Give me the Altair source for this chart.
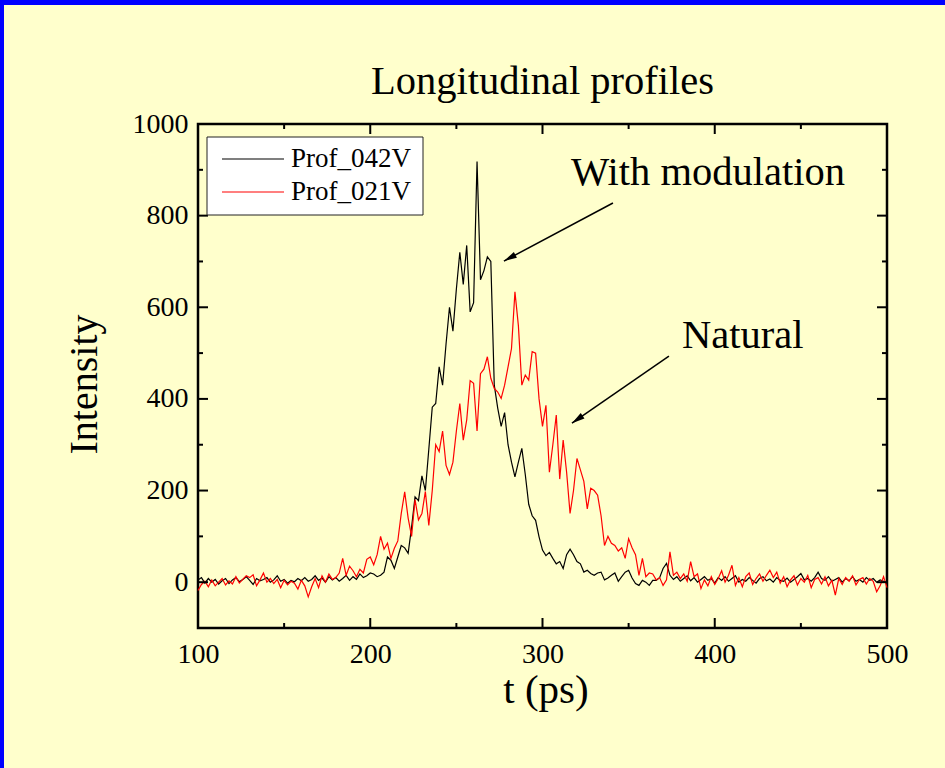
import altair as alt
import pandas as pd

# ---------------- data ----------------
t_ps = list(range(100, 501, 2))

prof_042v = [
    5, 10, -2, 8, 0, 6, -4, 3, 8, -3,
    5, 10, 1, 6, 12, 4, -5, 8, 3, 6,
    10, 0, 5, 14, 2, 6, -2, 4, 1, 8,
    3, 10, 2, 6, 14, 4, 9, 0, 12, 5,
    10, 2, 8, 15, 4, 12, 6, 18, 10, 14,
    20,
    18, 12, 15, 22, 55, 48, 30, 55, 80, 75,
    63, 120, 186, 178, 232, 200, 290, 382, 390, 470,
    430, 520, 600, 548, 640, 720, 650, 735, 590, 610, 918, 660, 680, 710, 700,
    430, 380, 340, 370, 300, 262, 230, 262, 292, 235,
    170, 145, 135, 99, 70, 58, 65, 52, 40, 45,
    30, 60, 72, 60, 45, 40, 22, 26, 19, 15,
    20, 22, 5, 9, 15,
    20, 2, 12, 22, 26, 9, -3, -7, 4, 0,
    -7, 4, 4, 10, 30, 41, 15, 6, 12, 2,
    8, 14, 3, 10, 0, 6, 12, 4, 8, -2,
    10, 4, 12, 2, 8, 14, 0, 6, 2, 10,
    4, -2, 8, 12, 3, 7, 0, 10, 4, 2,
    9, 0, 6, 12, 19, 5, 8, 2, 10, 22,
    8, 4, 12, 2, 6, 10, 0, 8, 3, 12,
    2, 6, 0, 10, 4, 8, 0, 5, 2, -2,
]

prof_021v = [
    -18, -5, 2, -10, 5, -8, 0, 8, -6, 3,
    -4, 12, -2, 6, 14, 10, 16, -8, 5, 20,
    0, 8, -3, 6, -12, 4, -6, 2, -2, -15,
    4, -8, -32, -10, 8, -12, 14, 0, 18, 6,
    10, 20, 52, 15, 35, 25, 12, 28, 20, 50,
    55,
    38, 60, 100, 72, 85, 52, 74, 90, 150, 197,
    140, 100, 180, 136, 150, 198, 124, 200, 300, 285,
    330, 255, 235, 262, 330, 390, 310, 354, 440, 434,
    330, 455, 465, 492, 445, 423, 415, 401, 430, 470,
    510, 634, 560, 430, 452, 441, 503, 500, 400, 340,
    386, 240, 300, 365, 225, 310, 240, 150, 200, 270,
    245, 220, 160, 205, 200, 190, 145, 80, 100, 85,
    80, 68, 75, 52, 95, 75, 60, 15, 52, 12,
    20, 18, 5, 10, -7, 5, 66, 15, 22, 8,
    18, 2, 45, 12, 18, -14, 5, -8, 12, -5,
    8, 25, 0, 15, 37, -7, 10, -10, 12, 20,
    -5, 8, 18, 2, 15, 26, 10, 22, -2, 12,
    -10, 5, 14, -6, 8, 0, 15, -12, 6, 10,
    -4, 12, -8, 4, -28, 8, -5, 10, 2, 14,
    -6, 6, 10, -4, 8, 2, -21, -8, 12, -12,
]

series_names = ["Prof_042V", "Prof_021V"]
series_colors = ["#000000", "#FF0000"]

chart_title = "Longitudinal profiles"
x_title = "t (ps)"
y_title = "Intensity"

x_ticks_major = [100, 200, 300, 400, 500]
x_ticks_minor = [150, 250, 350, 450]
y_ticks_major = [0, 200, 400, 600, 800, 1000]
y_ticks_minor = [100, 300, 500, 700, 900]

ann_labels = ["With modulation", "Natural"]
ann_t = [316.5, 381.0]
ann_y = [893.0, 537.0]

arrow_start_t = [340.9, 373.4]
arrow_start_y = [827.5, 493.4]
arrow_tip_t = [277.6, 317.1]
arrow_tip_y = [700.9, 347.0]

# ---------------- layout ----------------
W, H = 689, 504
FONT = "Liberation Serif"
BG = "#FFFFCC"
BIG = 40.5
TICKFS = 28
LEGFS = 27

xscale = alt.Scale(domain=[100, 500], nice=False, zero=False)
yscale = alt.Scale(domain=[-100, 1000], nice=False, zero=False)

xaxis = alt.Axis(values=x_ticks_major, format="d", labelFont=FONT, labelFontSize=TICKFS,
                 labelColor="black", labelPadding=12, labelFlush=False, labelOverlap=False,
                 ticks=False, domain=False, grid=False,
                 titleFont=FONT, titleFontSize=41, titleFontWeight="normal", titleColor="black",
                 titleX=W / 2 + 3, titleY=62, titleBaseline="middle", titleAlign="center")
yaxis = alt.Axis(values=y_ticks_major, format="d", labelFont=FONT, labelFontSize=TICKFS,
                 labelColor="black", labelPadding=10, labelFlush=False, labelOverlap=False,
                 ticks=False, domain=False, grid=False,
                 titleFont=FONT, titleFontSize=40, titleFontWeight="normal", titleColor="black",
                 titleX=-114, titleY=H / 2 + 8, titleAngle=270, titleBaseline="middle",
                 titleAlign="center")


def X(field):
    return alt.X(field, type="quantitative", scale=xscale, axis=xaxis, title=x_title)


def Y(field):
    return alt.Y(field, type="quantitative", scale=yscale, axis=yaxis, title=y_title)


df_b = pd.DataFrame({"t": t_ps, "v": prof_042v})
df_r = pd.DataFrame({"t": t_ps, "v": prof_021v})
one = pd.DataFrame({"a": [0]})

line_b = alt.Chart(df_b).mark_line(color=series_colors[0], strokeWidth=1.2).encode(x=X("t"), y=Y("v"))
line_r = alt.Chart(df_r).mark_line(color=series_colors[1], strokeWidth=1.2).encode(x=X("t"), y=Y("v"))


# inward ticks on all four sides
def vticks(vals, y0, y1):
    return alt.Chart(pd.DataFrame({"t": vals})).mark_rule(color="black", strokeWidth=2).encode(
        x=X("t"), y=alt.value(y0), y2=alt.value(y1))


def hticks(vals, x0, x1):
    return alt.Chart(pd.DataFrame({"v": vals})).mark_rule(color="black", strokeWidth=2).encode(
        y=Y("v"), x=alt.value(x0), x2=alt.value(x1))


ticks = [
    vticks(x_ticks_major, H, H - 10), vticks(x_ticks_major, 0, 10),
    vticks(x_ticks_minor, H, H - 5), vticks(x_ticks_minor, 0, 5),
    hticks(y_ticks_major, 0, 10), hticks(y_ticks_major, W, W - 10),
    hticks(y_ticks_minor, 0, 5), hticks(y_ticks_minor, W, W - 5),
]

# annotations
df_ann = pd.DataFrame({"t": ann_t, "v": ann_y, "label": ann_labels})
ann = alt.Chart(df_ann).mark_text(align="left", baseline="middle", font=FONT, fontSize=BIG,
                                  color="black").encode(x=X("t"), y=Y("v"), text="label:N")

df_arrow = pd.DataFrame({"t": arrow_start_t, "v": arrow_start_y,
                         "t2": arrow_tip_t, "v2": arrow_tip_y})
arrow_lines = alt.Chart(df_arrow).mark_rule(color="black", strokeWidth=1.5).encode(
    x=X("t"), y=Y("v"), x2="t2:Q", y2="v2:Q")

head_shape = "M0,0L-0.25,1L0.25,1Z"
heads = []
for i, ang in enumerate([242, 235]):
    heads.append(
        alt.Chart(pd.DataFrame({"t": [arrow_tip_t[i]], "v": [arrow_tip_y[i]]})).mark_point(
            shape=head_shape, filled=True, color="black", opacity=1, size=676, angle=ang,
            strokeWidth=0).encode(x=X("t"), y=Y("v")))

# manual legend
leg_box = alt.Chart(one).mark_rect(fill="white", stroke="#222222", strokeWidth=1).encode(
    x=alt.value(9), x2=alt.value(225), y=alt.value(13), y2=alt.value(91))
leg_items = []
for i, (nm, col) in enumerate(zip(series_names, series_colors)):
    yy = 35 + 33 * i
    leg_items.append(alt.Chart(one).mark_rule(color=col, strokeWidth=1.2).encode(
        x=alt.value(24), x2=alt.value(86), y=alt.value(yy)))
    leg_items.append(alt.Chart(one).mark_text(text=nm, align="left", baseline="middle", font=FONT,
                                              fontSize=LEGFS, color="black").encode(
        x=alt.value(93), y=alt.value(yy)))

# title as text
title_mark = alt.Chart(one).mark_text(text=chart_title, align="center", baseline="middle",
                                      font=FONT, fontSize=BIG, color="black").encode(
    x=alt.value(W / 2), y=alt.value(-42))

# blue border strips (page decoration)
blue_left = alt.Chart(one).mark_rect(color="#0000FF").encode(
    x=alt.value(-198), x2=alt.value(-194), y=alt.value(-124), y2=alt.value(768 - 124))
blue_top = alt.Chart(one).mark_rect(color="#0000FF").encode(
    x=alt.value(-198), x2=alt.value(945 - 198), y=alt.value(-124), y2=alt.value(-119))

chart = alt.layer(
    line_b, line_r, *ticks, arrow_lines, *heads, ann, leg_box, *leg_items, title_mark,
    blue_left, blue_top,
).properties(
    width=W, height=H,
    padding={"left": 198, "top": 124, "right": 945 - 198 - W, "bottom": 768 - 124 - H},
    autosize=alt.AutoSizeParams(type="none"),
    background=BG,
).configure_view(stroke="black", strokeWidth=2.5)

chart.save("out.html", embed_options={"renderer": "svg", "actions": False})
